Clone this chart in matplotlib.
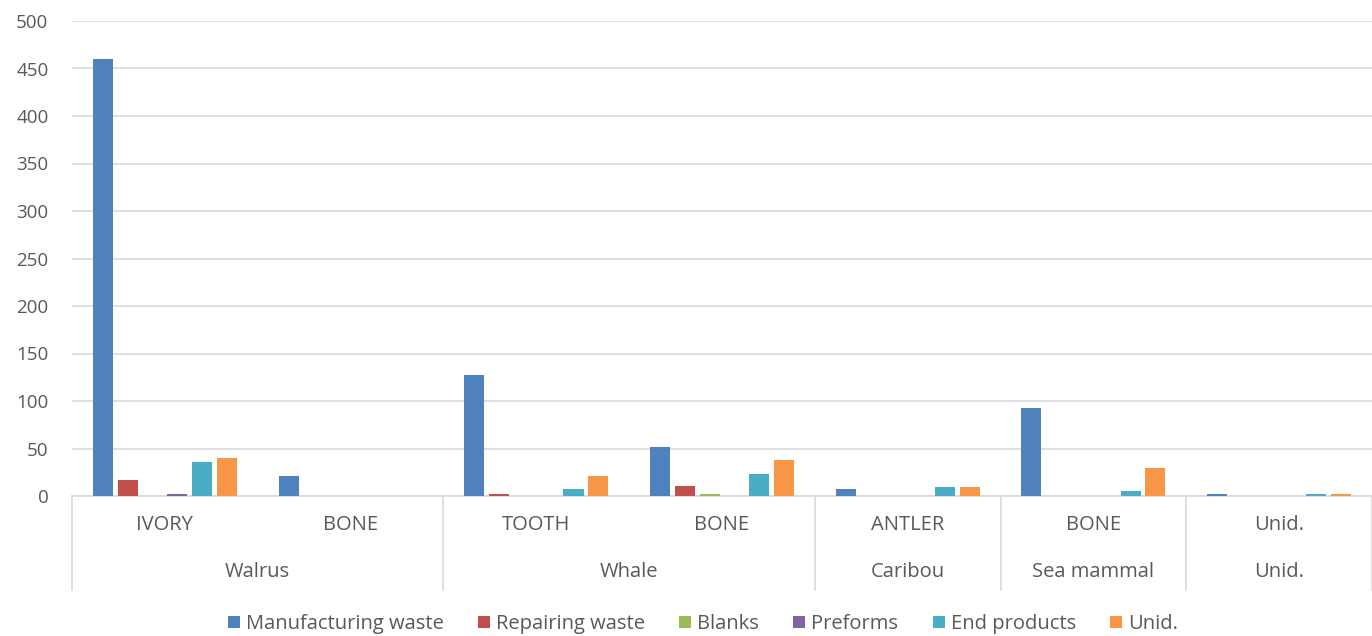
import matplotlib
matplotlib.use("Agg")
import matplotlib.pyplot as plt
import numpy as np

subcats = ["IVORY", "BONE", "TOOTH", "BONE", "ANTLER", "BONE", "Unid."]
groups = ["Walrus", "Whale", "Caribou", "Sea mammal", "Unid."]
group_sizes = [2, 2, 1, 1, 1]
series_names = ["Manufacturing waste", "Repairing waste", "Blanks", "Preforms", "End products", "Unid."]
manufacturing = [460, 21, 127, 52, 7, 93, 2]
repairing = [17, 0, 2, 11, 0, 0, 0]
blanks = [0, 0, 0, 2, 0, 0, 0]
preforms = [2, 0, 0, 0, 0, 0, 0]
end_products = [36, 0, 7, 23, 9, 5, 2]
unid = [40, 0, 21, 38, 9, 30, 2]
series = [manufacturing, repairing, blanks, preforms, end_products, unid]
colors = ["#4F81BD", "#C0504D", "#9BBB59", "#8064A2", "#4BACC6", "#F79646"]
yticks = [0, 50, 100, 150, 200, 250, 300, 350, 400, 450, 500]

txt = "#595959"
plt.rcParams['font.family'] = ['Open Sans', 'DejaVu Sans']
fs = 14.5

fig = plt.figure(figsize=(13.72, 6.36), dpi=100)
ax = fig.add_axes([72/1372, 1-496/636, 1-72/1372, 475/636])

x = np.arange(len(subcats))
slot = 0.1336
width = 0.108
for i, (vals, c, name) in enumerate(zip(series, colors, series_names)):
    ax.bar(x + (i - 2.5) * slot, vals, width=width, color=c, label=name, zorder=3)

ax.set_xlim(-0.5, len(subcats) - 0.5)
ax.set_ylim(0, 500)
ax.set_yticks(yticks)
ax.set_yticklabels([str(t) for t in yticks], color=txt, fontsize=13.5)
ax.tick_params(axis='y', length=0, pad=17)
ax.set_xticks([])
ax.grid(axis='y', color="#D9D9D9", linewidth=1.2, zorder=0)
for s in ["left", "right", "top"]:
    ax.spines[s].set_visible(False)
ax.spines["bottom"].set_color("#D9D9D9")
ax.spines["bottom"].set_linewidth(1.2)

trans = ax.get_xaxis_transform()
for xi, lab in zip(x, subcats):
    ax.text(xi, -29/475, lab, transform=trans, ha='center', va='center', color=txt, fontsize=fs)

bounds = [-0.5]
pos = -0.5
for g, n in zip(groups, group_sizes):
    center = pos + n / 2
    ax.text(center, -76/475, g, transform=trans, ha='center', va='center', color=txt, fontsize=fs)
    pos += n
    bounds.append(pos)
for b in bounds:
    ax.plot([b, b], [0, -94/475], transform=trans, color="#D9D9D9", linewidth=1.2, clip_on=False)

fig.legend(loc='center', bbox_to_anchor=(703/1372, 1-624/636), ncol=6, frameon=False,
           fontsize=fs, labelcolor=txt, handlelength=0.6, handleheight=0.6,
           handletextpad=0.3, columnspacing=1.7)

fig.savefig("out.png", dpi=100)
